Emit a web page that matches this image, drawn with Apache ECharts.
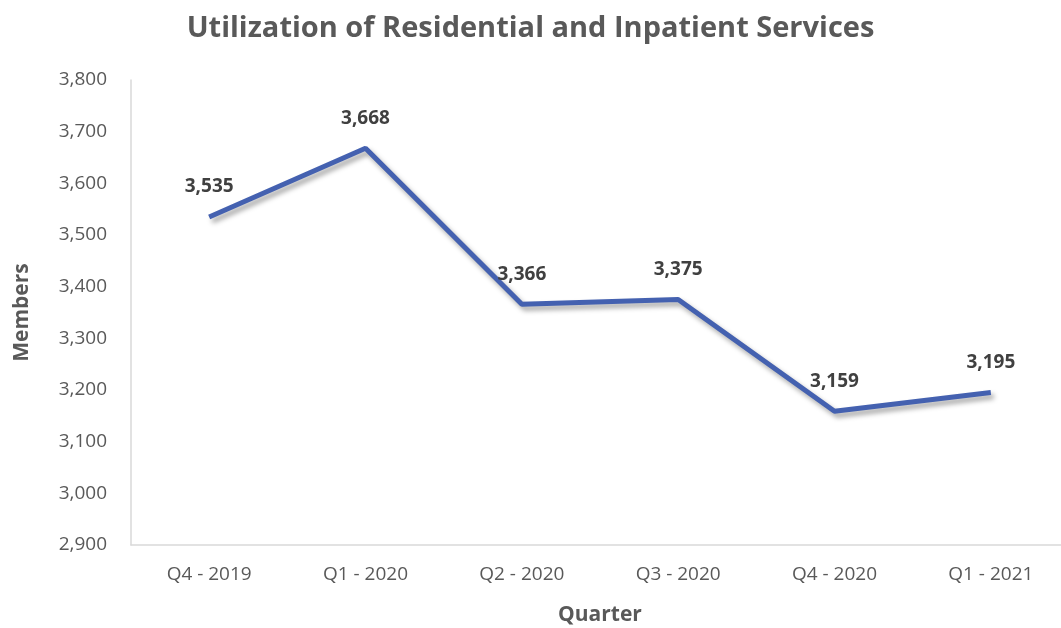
<!DOCTYPE html>
<html>
<head>
<meta charset="utf-8">
<script src="https://cdn.jsdelivr.net/npm/echarts@6/dist/echarts.min.js"></script>
<style>
html, body { margin: 0; padding: 0; background: #fff; }
#main { width: 1061px; height: 628px; }
</style>
</head>
<body>
<div id="main"></div>
<script>
var quarters = ['Q4 - 2019', 'Q1 - 2020', 'Q2 - 2020', 'Q3 - 2020', 'Q4 - 2020', 'Q1 - 2021'];
var members = [3535, 3668, 3366, 3375, 3159, 3195];

var chart = echarts.init(document.getElementById('main'));
var fontFam = '"Open Sans", "Liberation Sans", sans-serif';

var option = {
    backgroundColor: '#fff',
    animation: false,
    title: {
        text: 'Utilization of Residential and Inpatient Services',
        left: 'center',
        top: 9,
        textStyle: { fontFamily: fontFam, fontSize: 29, fontWeight: 'bold', color: '#595959' }
    },
    grid: { left: 131, right: -8, top: 80, bottom: 83, outerBoundsMode: 'none', containLabel: false },
    xAxis: {
        type: 'category',
        data: quarters,
        boundaryGap: true,
        name: 'Quarter',
        nameLocation: 'middle',
        nameGap: 60,
        nameTextStyle: { fontFamily: fontFam, fontSize: 21, fontWeight: 'bold', color: '#595959' },
        axisLine: { lineStyle: { color: '#d9d9d9', width: 1.5 } },
        axisTick: { show: false },
        axisLabel: { fontFamily: fontFam, fontSize: 19, color: '#595959', margin: 20 }
    },
    yAxis: {
        type: 'value',
        min: 2900,
        max: 3800,
        interval: 100,
        name: 'Members',
        nameLocation: 'middle',
        nameGap: 98,
        nameTextStyle: { fontFamily: fontFam, fontSize: 21, fontWeight: 'bold', color: '#595959' },
        axisLine: { show: true, lineStyle: { color: '#d9d9d9', width: 1.5 } },
        axisTick: { show: false },
        splitLine: { show: false },
        axisLabel: {
            fontFamily: fontFam, fontSize: 19, color: '#595959', margin: 24,
            formatter: function (v) { return v.toLocaleString('en-US'); }
        }
    },
    series: [{
        type: 'line',
        data: members,
        symbol: 'circle',
        symbolSize: 1,
        showSymbol: true,
        itemStyle: { color: 'rgba(0,0,0,0)' },
        lineStyle: {
            color: '#4461b0', width: 5,
            shadowColor: 'rgba(0,0,0,0.35)', shadowBlur: 5, shadowOffsetX: 3, shadowOffsetY: 4
        },
        label: {
            show: true,
            position: 'top',
            distance: 20,
            fontFamily: fontFam, fontSize: 19, fontWeight: 'bold', color: '#404040',
            formatter: function (p) { return p.value.toLocaleString('en-US'); }
        }
    }]
};
chart.setOption(option);
</script>
</body>
</html>
